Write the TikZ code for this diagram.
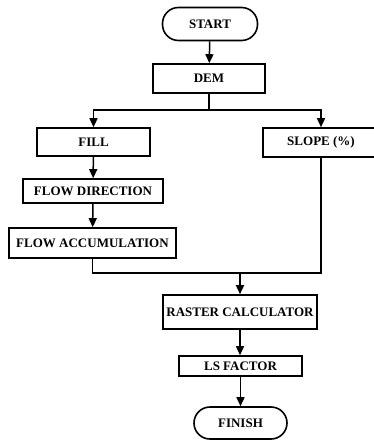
\documentclass[tikz,border=0pt]{standalone}
\usepackage{fontspec}
\setmainfont{Liberation Serif}
\usetikzlibrary{arrows.meta}
\begin{document}
\begin{tikzpicture}[x=1pt,y=-1pt,
  box/.style={draw,line width=1.6pt,inner sep=0pt,font=\fontsize{13}{15}\selectfont\bfseries},
  term/.style={box,rounded corners=16pt},
  conn/.style={line width=1.5pt},
  arr/.style={conn,-{Triangle[width=8pt,length=9pt]}}]
\useasboundingbox (0,0) rectangle (374,441);
\clip (0,0) rectangle (374,441);
\node[term,minimum width=95pt,minimum height=33pt] (start) at (210,24) {START};
\node[box,minimum width=112pt,minimum height=29pt] (dem) at (209,78.5) {DEM};
\node[box,minimum width=113pt,minimum height=28pt] (fill) at (93.5,142) {FILL};
\node[box,minimum width=116pt,minimum height=29pt] (slope) at (321,142.5) {SLOPE (\%)};
\node[box,minimum width=140pt,minimum height=24pt] (fdir) at (93,191) {FLOW DIRECTION};
\node[box,minimum width=167pt,minimum height=30pt] (facc) at (92.5,243) {FLOW ACCUMULATION};
\node[box,minimum width=154pt,minimum height=34pt] (raster) at (240,312) {RASTER CALCULATOR};
\node[box,minimum width=123pt,minimum height=20pt] (ls) at (240.5,366) {LS FACTOR};
\node[term,minimum width=93pt,minimum height=32pt] (finish) at (240.5,423) {FINISH};
\coordinate (split) at (209,110);
\coordinate (join) at (240,273);
\draw[arr] (start) -- (dem);
\draw[conn] (dem) -- (split);
\draw[arr] (split) -| (fill);
\draw[arr] (split) -| (slope);
\draw[arr] (fill) -- (fdir);
\draw[arr] (fdir) -- (facc);
\draw[conn] (facc) |- (join);
\draw[conn] (slope) |- (join);
\draw[arr] (join) -- (raster);
\draw[arr] (raster) -- (ls.north -| raster);
\draw[arr] (ls) -- (finish);
\end{tikzpicture}
\end{document}
